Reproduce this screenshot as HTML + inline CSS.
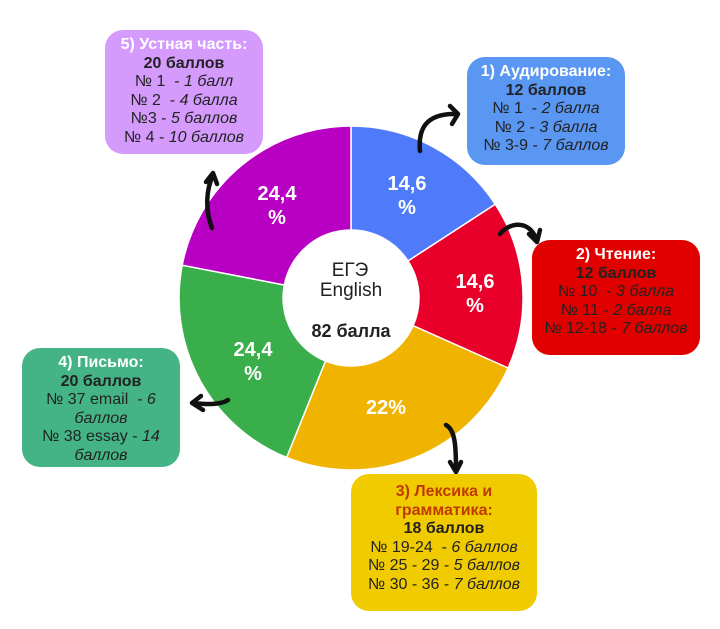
<!DOCTYPE html>
<html><head><meta charset="utf-8"><style>
body{margin:0;width:720px;height:629px;background:#fff;overflow:hidden;position:relative;font-family:"Liberation Sans Narrow","Liberation Sans",sans-serif;}
.box{position:absolute;border-radius:18px;text-align:center;font-size:16px;line-height:18.5px;color:#222;box-sizing:border-box;padding-top:6px}
.box b{font-weight:bold}
.box i{font-style:italic}
.t{color:#fff;font-weight:bold}
svg{position:absolute;left:0;top:0}
</style></head><body>
<svg width="720" height="629" viewBox="0 0 720 629">
<g stroke="#fff" stroke-width="1.5">
<path fill="#4f7bfa" d="M351,126 A172,172 0 0 1 495.3,204.3 L408,261 A68,68 0 0 0 351,230 Z"/>
<path fill="#e8002a" d="M495.3,204.3 A172,172 0 0 1 508.1,368 L413.1,325.7 A68,68 0 0 0 408,261 Z"/>
<path fill="#f0b400" d="M508.1,368 A172,172 0 0 1 286.6,457.5 L325.5,361 A68,68 0 0 0 413.1,325.7 Z"/>
<path fill="#39ae4a" d="M286.6,457.5 A172,172 0 0 1 182.2,265.2 L284.3,285 A68,68 0 0 0 325.5,361 Z"/>
<path fill="#b800c2" d="M182.2,265.2 A172,172 0 0 1 351,126 L351,230 A68,68 0 0 0 284.3,285 Z"/>
</g>
<g fill="none" stroke="#111" stroke-width="4.5" stroke-linecap="round" stroke-linejoin="round">
<path d="M420 151 C418 130 425 114 454 114"/><path d="M450 106 L458 114 L452 124"/>
<path d="M500 234 C510 222 528 220 536 238"/><path d="M529 234 L537 242 L540 230"/>
<path d="M212 228 C205 210 206 190 213 175"/><path d="M206 182 L213 173 L217 184"/>
<path d="M228 400 C222 404 210 405 193 403"/><path d="M201 396 L192 403 L203 410"/>
<path d="M446 425 C455 430 456 445 456 470"/><path d="M450 462 L456 472 L461 462"/>
</g>
<g fill="#fff" font-family="Liberation Sans Narrow, Liberation Sans, sans-serif" font-weight="bold" font-size="20" text-anchor="middle">
<text x="407" y="190">14,6</text><text x="407" y="214">%</text>
<text x="475" y="288">14,6</text><text x="475" y="312">%</text>
<text x="386" y="414">22%</text>
<text x="253" y="356">24,4</text><text x="253" y="380">%</text>
<text x="277" y="200">24,4</text><text x="277" y="224">%</text>
</g>
<g fill="#222" font-family="Liberation Sans Narrow, Liberation Sans, sans-serif" font-size="19" text-anchor="middle">
<text x="350" y="276">ЕГЭ</text><text x="351" y="296">English</text>
<text x="351" y="337" font-weight="bold" font-size="18">82 балла</text>
</g>
</svg>
<div class="box" style="left:105px;top:30px;width:158px;height:124px;background:#d49bfd"><span class="t">5) Устная часть:</span><br><b>20 баллов</b><br>№ 1 &nbsp;- <i>1 балл</i><br>№ 2 &nbsp;- <i>4 балла</i><br>№3 - <i>5 баллов</i><br>№ 4 - <i>10 баллов</i></div>
<div class="box" style="left:467px;top:57px;width:158px;height:108px;background:#5a97f2"><span class="t">1) Аудирование:</span><br><b>12 баллов</b><br>№ 1 &nbsp;- <i>2 балла</i><br>№ 2 - <i>3 балла</i><br>№ 3-9 - <i>7 баллов</i></div>
<div class="box" style="left:532px;top:240px;width:168px;height:115px;background:#e00000"><span class="t">2) Чтение:</span><br><b>12 баллов</b><br>№ 10 &nbsp;- <i>3 балла</i><br>№ 11 - <i>2 балла</i><br>№ 12-18 - <i>7 баллов</i></div>
<div class="box" style="left:22px;top:348px;width:158px;height:119px;background:#44b487"><span class="t">4) Письмо:</span><br><b>20 баллов</b><br>№ 37 email &nbsp;- <i>6<br>баллов</i><br>№ 38 essay - <i>14<br>баллов</i></div>
<div class="box" style="left:351px;top:474px;width:186px;height:137px;background:#f0cb00;padding-top:9px"><span style="color:#c03a00;font-weight:bold">3) Лексика и<br>грамматика:</span><br><b>18 баллов</b><br>№ 19-24 &nbsp;- <i>6 баллов</i><br>№ 25 - 29 - <i>5 баллов</i><br>№ 30 - 36 - <i>7 баллов</i></div>
</body></html>
